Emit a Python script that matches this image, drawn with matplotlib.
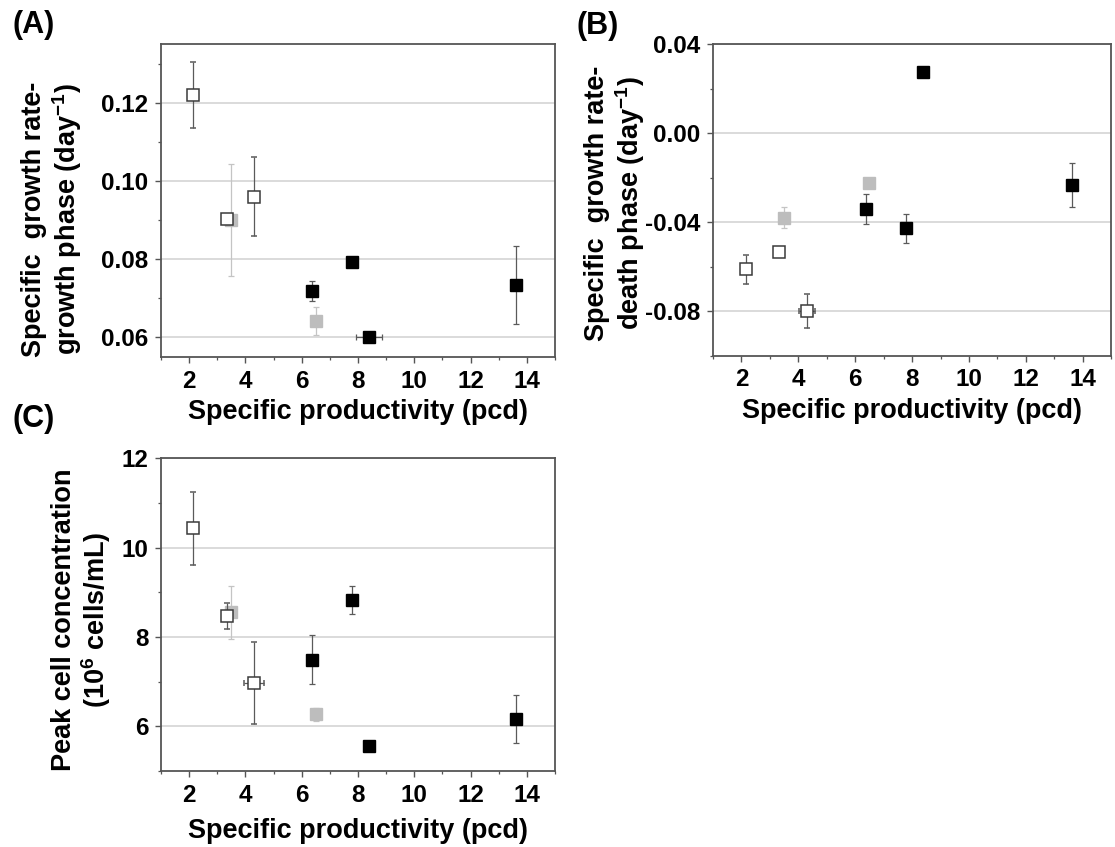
import numpy as np
import matplotlib
matplotlib.use("Agg")
import matplotlib.pyplot as plt
from matplotlib.ticker import MultipleLocator, FormatStrFormatter

plt.rcParams['font.family'] = ['Liberation Sans', 'DejaVu Sans']
plt.rcParams['font.weight'] = 'bold'
plt.rcParams['mathtext.fontset'] = 'custom'
plt.rcParams['mathtext.rm'] = 'Liberation Sans:bold'
plt.rcParams['mathtext.bf'] = 'Liberation Sans:bold'
plt.rcParams['mathtext.it'] = 'Liberation Sans:bold:italic'
plt.rcParams['axes.unicode_minus'] = False

# specific productivity (pcd) of each clone, three groups
open_x = [2.15, 3.33, 4.3]
gray_x = [3.5, 6.5]
black_x = [6.37, 7.77, 8.39, 13.63]

# (A) growth phase growth rate
a_open = [0.122, 0.0903, 0.096]
a_open_err = [0.0085, 0.001, 0.010]
a_gray = [0.090, 0.0642]
a_gray_err = [0.0144, 0.0036]
a_black = [0.0719, 0.0792, 0.060, 0.0734]
a_black_err = [0.0026, 0.001, 0.0007, 0.0099]
a_black_xerr = [0, 0, 0.45, 0]

# (B) death phase growth rate
b_open = [-0.0611, -0.0531, -0.0799]
b_open_err = [0.0065, 0.001, 0.0076]
b_open_xerr = [0, 0, 0.28]
b_gray = [-0.0378, -0.0225]
b_gray_err = [0.0047, 0.001]
b_black = [-0.0338, -0.0427, 0.0277, -0.0233]
b_black_err = [0.0067, 0.0064, 0.0015, 0.010]

# (C) peak cell concentration
c_open = [10.43, 8.46, 6.97]
c_open_err = [0.82, 0.29, 0.91]
c_open_xerr = [0, 0, 0.35]
c_gray = [8.55, 6.27]
c_gray_err = [0.6, 0.15]
c_black = [7.49, 8.83, 5.56, 6.17]
c_black_err = [0.55, 0.31, 0.05, 0.54]

xlabel = 'Specific productivity (pcd)'


def draw_panel(ax, yo, yoe, yg, yge, yb, ybe, oxe=None, bxe=None):
    ax.errorbar(gray_x, yg, yerr=yge, fmt='s', ms=8.5, mfc='#bdbdbd', mec='#bdbdbd',
                ecolor='#c4c4c4', elinewidth=0.9, capsize=2.5, capthick=0.9, zorder=3)
    ax.errorbar(open_x, yo, yerr=yoe, xerr=oxe, fmt='s', ms=8.5, mfc='white', mec='#3a3a3a',
                mew=1.1, ecolor='#5a5a5a', elinewidth=0.9, capsize=2.5, capthick=0.9, zorder=4)
    ax.errorbar(black_x, yb, yerr=ybe, xerr=bxe, fmt='s', ms=8.5, mfc='black', mec='black',
                ecolor='#5a5a5a', elinewidth=0.9, capsize=2.5, capthick=0.9, zorder=5)
    ax.set_xlim(1, 15)
    ax.xaxis.set_major_locator(MultipleLocator(2))
    ax.xaxis.set_minor_locator(MultipleLocator(1))
    ax.grid(axis='y', which='major', color='#d4d4d4', lw=1.2, zorder=0)
    ax.set_axisbelow(True)
    for s in ax.spines.values():
        s.set_color('#555555')
        s.set_linewidth(1.3)
    ax.tick_params(which='both', direction='out', color='#555555', labelsize=17.5, pad=5)
    ax.tick_params(which='major', length=4, width=1.0)
    ax.tick_params(which='minor', length=2.5, width=0.9)
    ax.set_xlabel(xlabel, fontsize=19.5, fontweight='bold')


fig = plt.figure(figsize=(11.15, 8.47), dpi=100)
axA = fig.add_axes([0.1444, 0.5785, 0.3534, 0.3695])
axB = fig.add_axes([0.6395, 0.5797, 0.3570, 0.3680])
axC = fig.add_axes([0.1444, 0.0897, 0.3534, 0.3692])

draw_panel(axA, a_open, a_open_err, a_gray, a_gray_err, a_black, a_black_err,
           bxe=a_black_xerr)
axA.set_ylim(0.055, 0.135)
axA.yaxis.set_major_locator(MultipleLocator(0.02))
axA.yaxis.set_minor_locator(MultipleLocator(0.01))
axA.yaxis.set_major_formatter(FormatStrFormatter('%.2f'))
axA.set_ylabel('Specific  growth rate-\ngrowth phase (day$^{-1}$)', fontsize=19.5,
               fontweight='bold', va='center', linespacing=1.1)
axA.yaxis.set_label_coords(-0.275, 0.44)
axA.xaxis.set_label_coords(0.5, -0.135)

draw_panel(axB, b_open, b_open_err, b_gray, b_gray_err, b_black, b_black_err,
           oxe=b_open_xerr)
axB.set_ylim(-0.1, 0.04)
axB.yaxis.set_major_locator(MultipleLocator(0.04))
axB.yaxis.set_minor_locator(MultipleLocator(0.02))
axB.yaxis.set_major_formatter(FormatStrFormatter('%.2f'))
axB.set_ylabel('Specific  growth rate-\ndeath phase (day$^{-1}$)', fontsize=19.5,
               fontweight='bold', va='center', linespacing=1.1)
axB.yaxis.set_label_coords(-0.245, 0.49)
axB.xaxis.set_label_coords(0.5, -0.135)

draw_panel(axC, c_open, c_open_err, c_gray, c_gray_err, c_black, c_black_err,
           oxe=c_open_xerr)
axC.set_ylim(5, 12)
axC.yaxis.set_major_locator(MultipleLocator(2))
axC.yaxis.set_minor_locator(MultipleLocator(1))
axC.set_ylabel('Peak cell concentration\n(10$^{6}$ cells/mL)', fontsize=19.5,
               fontweight='bold', va='center', linespacing=1.1)
axC.yaxis.set_label_coords(-0.2, 0.485)
axC.xaxis.set_label_coords(0.5, -0.15)

fig.text(0.011, 0.971, '(A)', fontsize=22, fontweight='bold', va='center')
fig.text(0.517, 0.969, '(B)', fontsize=22, fontweight='bold', va='center')
fig.text(0.011, 0.505, '(C)', fontsize=22, fontweight='bold', va='center')

fig.savefig('out.png', dpi=100)
